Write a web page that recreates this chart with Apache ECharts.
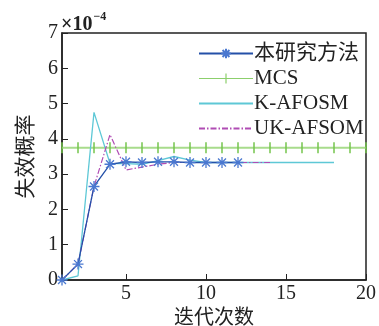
<!DOCTYPE html>
<html>
<head>
<meta charset="utf-8">
<script src="https://cdn.jsdelivr.net/npm/echarts@6/dist/echarts.min.js"></script>
<style>
    html, body { margin: 0; padding: 0; background: #fff; }
    #chart { width: 379px; height: 326px; }
</style>
</head>
<body>
<div id="chart"></div>
<script>
    // 数据 (单位 ×10^-4)
    var xTicks = [5, 10, 15, 20];
    var yTicks = [0, 1, 2, 3, 4, 5, 6, 7];
    var seriesNames = ['本研究方法', 'MCS', 'K-AFOSM', 'UK-AFSOM'];
    var methodIter = [1, 2, 3, 4, 5, 6, 7, 8, 9, 10, 11, 12];
    var methodVal = [0, 0.45, 2.65, 3.28, 3.35, 3.33, 3.35, 3.35, 3.33, 3.33, 3.33, 3.33];
    var mcsIter = [1, 2, 3, 4, 5, 6, 7, 8, 9, 10, 11, 12, 13, 14, 15, 16, 17, 18, 19, 20];
    var mcsVal = [3.75, 3.75, 3.75, 3.75, 3.75, 3.75, 3.75, 3.75, 3.75, 3.75, 3.75, 3.75, 3.75, 3.75, 3.75, 3.75, 3.75, 3.75, 3.75, 3.75];
    var kIter = [1, 2, 3, 4, 5, 6, 7, 8, 9, 10, 11, 12, 13, 14, 15, 16, 17, 18];
    var kVal = [0, 0.12, 4.75, 3.3, 3.3, 3.28, 3.38, 3.5, 3.4, 3.33, 3.33, 3.33, 3.33, 3.33, 3.33, 3.33, 3.33, 3.33];
    var ukIter = [1, 2, 3, 4, 5, 6, 7, 8, 9, 10, 11, 12, 13, 14];
    var ukVal = [0, 0.45, 2.65, 4.12, 3.12, 3.2, 3.28, 3.33, 3.33, 3.33, 3.33, 3.33, 3.33, 3.33];

    function pairs(xs, ys) {
        return xs.map(function (x, i) { return [x, ys[i]]; });
    }

    var fontFamily = '"Liberation Serif", "Noto Sans CJK SC", serif';
    var asterisk = 'path://M0,-5L0,5M-5,0L5,0M-3.6,-3.6L3.6,3.6M-3.6,3.6L3.6,-3.6';
    var vbar = 'path://M0,0L1,0L1,10L0,10Z';
    // 图例: 横线 + 竖刻度
    var mcsIcon = 'path://M0,4.4L54,4.4L54,5.6L0,5.6Z M26.4,0L27.6,0L27.6,10L26.4,10Z';

    var myEcharts = echarts.init(document.getElementById('chart'));
    myEcharts.setOption({
        animation: false,
        textStyle: { fontFamily: fontFamily },
        title: {
            text: '{a|×10}{b|−4}',
            left: 61,
            top: 11,
            padding: 0,
            textStyle: {
                rich: {
                    a: { fontFamily: fontFamily, fontSize: 20, color: '#222', verticalAlign: 'bottom' },
                    b: { fontFamily: fontFamily, fontSize: 12, color: '#222', verticalAlign: 'top', padding: [0, 0, 12, 1] }
                }
            }
        },
        grid: {
            left: 62, right: 13, top: 33, bottom: 46,
            outerBoundsMode: 'none',
            containLabel: false,
            show: true, borderColor: '#222', borderWidth: 1.5
        },
        legend: {
            orient: 'vertical',
            left: 193,
            top: 38,
            itemWidth: 54,
            itemHeight: 12,
            itemGap: 4,
            data: [
                { name: seriesNames[0] },
                { name: seriesNames[1], icon: mcsIcon, itemStyle: { color: '#8ccf6c' } },
                { name: seriesNames[2], itemStyle: { opacity: 0 } },
                { name: seriesNames[3], itemStyle: { opacity: 0 } }
            ],
            textStyle: { fontFamily: fontFamily, fontSize: 21, color: '#222', padding: [0, 0, 0, -4] }
        },
        xAxis: {
            type: 'value',
            min: 1,
            max: 20,
            name: '迭代次数',
            nameLocation: 'middle',
            nameGap: 25,
            nameTextStyle: { fontFamily: fontFamily, fontSize: 20, color: '#222' },
            axisLine: { lineStyle: { color: '#222', width: 1.5 } },
            axisTick: { inside: true, length: 6, customValues: xTicks, lineStyle: { color: '#222' } },
            axisLabel: { customValues: xTicks, fontSize: 20, color: '#222', margin: 4 },
            splitLine: { show: false }
        },
        yAxis: {
            type: 'value',
            min: 0,
            max: 7,
            interval: 1,
            name: '失效概率',
            nameLocation: 'middle',
            nameGap: 24,
            nameRotate: 90,
            nameTextStyle: { fontFamily: fontFamily, fontSize: 21, color: '#222' },
            axisLine: { show: true, lineStyle: { color: '#222', width: 1.5 } },
            axisTick: { show: true, inside: true, length: 6, lineStyle: { color: '#222' } },
            axisLabel: { fontSize: 20, color: '#222', margin: 4 },
            splitLine: { show: false }
        },
        series: [
            {
                name: 'MCS',
                type: 'line',
                data: pairs(mcsIter, mcsVal),
                symbol: vbar,
                symbolSize: [1.5, 11],
                showAllSymbol: true,
                lineStyle: { color: '#a8dc8c', width: 2 },
                itemStyle: { color: '#74c44c' },
                z: 2
            },
            {
                name: 'K-AFOSM',
                type: 'line',
                data: pairs(kIter, kVal),
                symbol: 'none',
                lineStyle: { color: '#5ec8d6', width: 1.3 },
                itemStyle: { color: '#5ec8d6' },
                z: 3
            },
            {
                name: 'UK-AFSOM',
                type: 'line',
                data: pairs(ukIter, ukVal),
                symbol: 'none',
                lineStyle: { color: '#b04cb4', width: 1.2, type: [6, 2, 1.5, 2] },
                itemStyle: { color: '#b04cb4' },
                z: 4
            },
            {
                name: '本研究方法',
                type: 'line',
                data: pairs(methodIter, methodVal),
                symbol: asterisk,
                symbolSize: 11,
                showAllSymbol: true,
                lineStyle: { color: '#2450a8', width: 1.3 },
                itemStyle: { color: '#4a78d0', borderColor: '#4a78d0', borderWidth: 1.3 },
                z: 5
            }
        ]
    });
</script>
</body>
</html>
